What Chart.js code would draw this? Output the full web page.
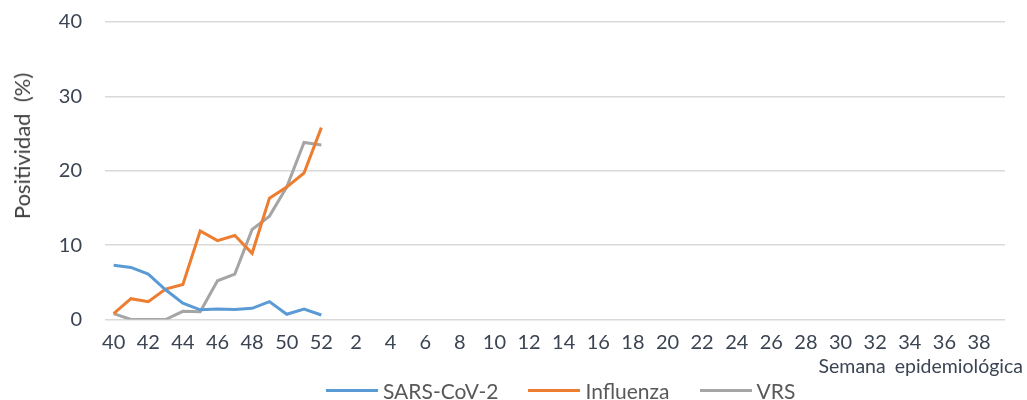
<!DOCTYPE html>
<html><head><meta charset="utf-8">
<script src="https://cdn.jsdelivr.net/npm/chart.js@4/dist/chart.umd.min.js"></script>
<style>
html,body{margin:0;padding:0;background:#fff;}
#wrap{position:relative;width:1027px;height:400px;font-family:Lato,"Open Sans",sans-serif;}
#c{position:absolute;left:0;top:0;}
#yt{position:absolute;left:22px;top:146px;transform:translate(-50%,-50%) rotate(-90deg);white-space:pre;font-size:22px;line-height:1;color:#404040;}
#xt{position:absolute;right:4px;top:356px;font-size:19.5px;line-height:1;word-spacing:4px;color:#3b4453;}
#lg{position:absolute;top:380px;left:326px;display:flex;align-items:center;font-size:21px;line-height:1;color:#595959;}
.it{display:flex;align-items:center;margin-right:30px;}
.ln{width:52px;height:3px;margin-right:5px;}
</style></head><body>
<div id="wrap"><canvas id="c" width="1027" height="400"></canvas>
<div id="yt">Positividad  (%)</div>
<div id="xt">Semana epidemiológica</div>
<div id="lg"></div></div>
<script>
const weeks = [40,41,42,43,44,45,46,47,48,49,50,51,52,1,2,3,4,5,6,7,8,9,10,11,12,13,14,15,16,17,18,19,20,21,22,23,24,25,26,27,28,29,30,31,32,33,34,35,36,37,38,39];
const sarsCov2 = [7.3,7.0,6.1,4.0,2.2,1.3,1.4,1.35,1.5,2.4,0.7,1.4,0.6];
const influenza = [0.8,2.8,2.4,4.1,4.7,11.9,10.6,11.3,8.9,16.3,17.8,19.7,25.8];
const vrs = [0.8,0,0,0,1.1,1.05,5.2,6.1,12.1,13.9,17.8,23.8,23.45];
const yTicks = [0,10,20,30,40];
const seriesNames = ['SARS-CoV-2','Influenza','VRS'];
const colors = ['#5B9BD5','#ED7D31','#A5A5A5'];
const series = [sarsCov2, influenza, vrs];
const pad = a => weeks.map((w,i)=> i < a.length ? a[i] : null);
const tickColor = '#3b4453';
new Chart(document.getElementById('c'), {
  type:'line',
  data:{labels:weeks.map(String), datasets: series.map((s,i)=>({label:seriesNames[i],data:pad(s),borderColor:colors[i],backgroundColor:colors[i],borderWidth:3,pointRadius:0,tension:0,spanGaps:false}))},
  options:{
    responsive:false, animation:false,
    layout:{padding:{left:0,right:22,top:0,bottom:0}},
    plugins:{legend:{display:false},tooltip:{enabled:false}},
    scales:{
      x:{offset:true,grid:{display:false},border:{display:false},
         afterFit:s=>{s.height=80.5;},
         ticks:{autoSkip:false,maxRotation:0,color:tickColor,font:{family:'Lato',size:20},padding:3,
           callback:function(v,i){return i%2===0?weeks[i]:'';}}},
      y:{min:0,max:40,afterBuildTicks:ax=>{ax.ticks=yTicks.map(v=>({value:v}));},
         afterFit:s=>{s.width=105;s.paddingTop=22;s.paddingBottom=12;},
         grid:{color:'#d9d9d9',lineWidth:1.5,drawTicks:false},border:{display:false},
         ticks:{color:tickColor,font:{family:'Lato',size:20},padding:23}}
    }
  }
});
document.getElementById('lg').innerHTML = seriesNames.map((n,i)=>`<div class="it"><div class="ln" style="background:${colors[i]}"></div>${n}</div>`).join('');
</script></body></html>
